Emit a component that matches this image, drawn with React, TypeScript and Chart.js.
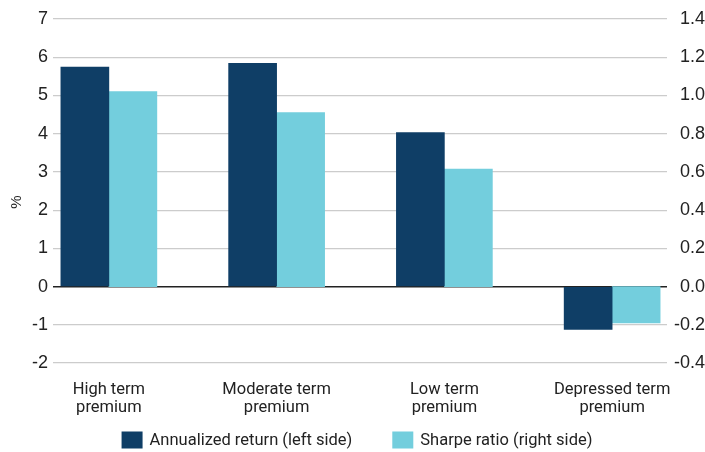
import React, { useEffect, useRef } from "react";
import { Chart, registerables } from "chart.js";

Chart.register(...registerables);

const categories: string[][] = [
  ["High term", "premium"],
  ["Moderate term", "premium"],
  ["Low term", "premium"],
  ["Depressed term", "premium"],
];
const annualizedReturn = [5.74, 5.84, 4.03, -1.12];
const sharpeRatio = [1.02, 0.91, 0.615, -0.19];
const seriesNames = ["Annualized return (left side)", "Sharpe ratio (right side)"];
const leftTicks = [-2, -1, 0, 1, 2, 3, 4, 5, 6, 7];
const rightTicks = [-0.4, -0.2, 0, 0.2, 0.4, 0.6, 0.8, 1.0, 1.2, 1.4];
const leftAxisTitle = "%";

const DARK = "#0f3e66";
const LIGHT = "#73cedd";
const NARROW = "Roboto, sans-serif";
const TICKFONT = "'Liberation Sans', Arial, sans-serif";

const legendPlugin = {
  id: "customLegend",
  afterDraw(chart: any) {
    const ctx = chart.ctx as CanvasRenderingContext2D;
    const datasets = chart.data.datasets;
    ctx.save();
    ctx.font = `16.5px ${NARROW}`;
    ctx.textBaseline = "middle";
    ctx.textAlign = "left";
    const boxW = 21;
    const boxH = 17;
    const gap = 7;
    const itemGap = 40;
    const widths = datasets.map((d: any) => boxW + gap + ctx.measureText(d.label).width);
    const total = widths.reduce((a: number, b: number) => a + b, 0) + itemGap * (widths.length - 1);
    let x = 357 - total / 2;
    const yMid = 440;
    datasets.forEach((d: any, i: number) => {
      ctx.fillStyle = d.backgroundColor;
      ctx.fillRect(x, yMid - boxH / 2, boxW, boxH);
      ctx.fillStyle = "#222";
      ctx.fillText(d.label, x + boxW + gap, yMid + 1);
      x += widths[i] + itemGap;
    });
    // left axis title
    ctx.font = `15px ${TICKFONT}`;
    ctx.textAlign = "center";
    ctx.textBaseline = "middle";
    ctx.translate(17, 202);
    ctx.rotate(-Math.PI / 2);
    ctx.fillText(leftAxisTitle, 0, 0);
    ctx.restore();
  },
};

export default function App() {
  const ref = useRef<HTMLCanvasElement | null>(null);

  useEffect(() => {
    if (!ref.current) return;
    const chart = new Chart(ref.current, {
      type: "bar",
      data: {
        datasets: [
          {
            label: seriesNames[0],
            data: annualizedReturn.map((v, i) => ({ x: i, y: v })),
            backgroundColor: DARK,
            borderWidth: 0,
            yAxisID: "y",
            barThickness: 48,
          },
          {
            label: seriesNames[1],
            data: sharpeRatio.map((v, i) => ({ x: i, y: v })),
            backgroundColor: LIGHT,
            borderWidth: 0,
            yAxisID: "y1",
            barThickness: 48,
          },
        ],
      },
      plugins: [legendPlugin],
      options: {
        responsive: false,
        animation: false,
        layout: { padding: { top: 19, left: 0, right: 0, bottom: 34 } },
        plugins: {
          tooltip: { enabled: false },
          legend: { display: false },
        },
        scales: {
          x: {
            type: "linear",
            min: -0.333,
            max: 3.327,
            offset: false,
            grid: { display: false },
            border: { display: false },
            afterBuildTicks: (scale: any) => {
              scale.ticks = categories.map((_, i) => ({ value: i }));
            },
            afterFit: (scale: any) => {
              scale.height = 55;
            },
            ticks: {
              autoSkip: false,
              maxRotation: 0,
              padding: 10,
              color: "#222",
              font: { family: NARROW, size: 16.5, lineHeight: 1.08 },
              callback: (v: any) => categories[Math.round(Number(v))] ?? "",
            },
          },
          y: {
            position: "left",
            min: leftTicks[0],
            max: leftTicks[leftTicks.length - 1],
            afterBuildTicks: (scale: any) => {
              scale.ticks = leftTicks.map((v) => ({ value: v }));
            },
            afterFit: (scale: any) => {
              scale.width = 53;
            },
            border: { display: false },
            grid: {
              drawTicks: false,
              color: (ctx: any) => (ctx.tick && ctx.tick.value === 0 ? "#222" : "#cccccc"),
              lineWidth: (ctx: any) => (ctx.tick && ctx.tick.value === 0 ? 1.5 : 1.2),
            },
            ticks: {
              padding: 5,
              color: "#222",
              font: { family: TICKFONT, size: 18 },
              callback: (v: any) => String(v),
            },
          },
          y1: {
            position: "right",
            min: rightTicks[0],
            max: rightTicks[rightTicks.length - 1],
            afterBuildTicks: (scale: any) => {
              scale.ticks = rightTicks.map((v) => ({ value: v }));
            },
            afterFit: (scale: any) => {
              scale.width = 38;
            },
            border: { display: false },
            grid: { display: false, drawTicks: false },
            ticks: {
              padding: 4,
              crossAlign: "far",
              color: "#222",
              font: { family: TICKFONT, size: 18 },
              callback: (v: any) => Number(v).toFixed(1),
            },
          },
        },
      },
    });
    return () => chart.destroy();
  }, []);

  return (
    <div style={{ position: "fixed", left: 0, top: 0, width: 705, height: 452, background: "#fff" }}>
      <canvas ref={ref} width={705} height={452} />
    </div>
  );
}
